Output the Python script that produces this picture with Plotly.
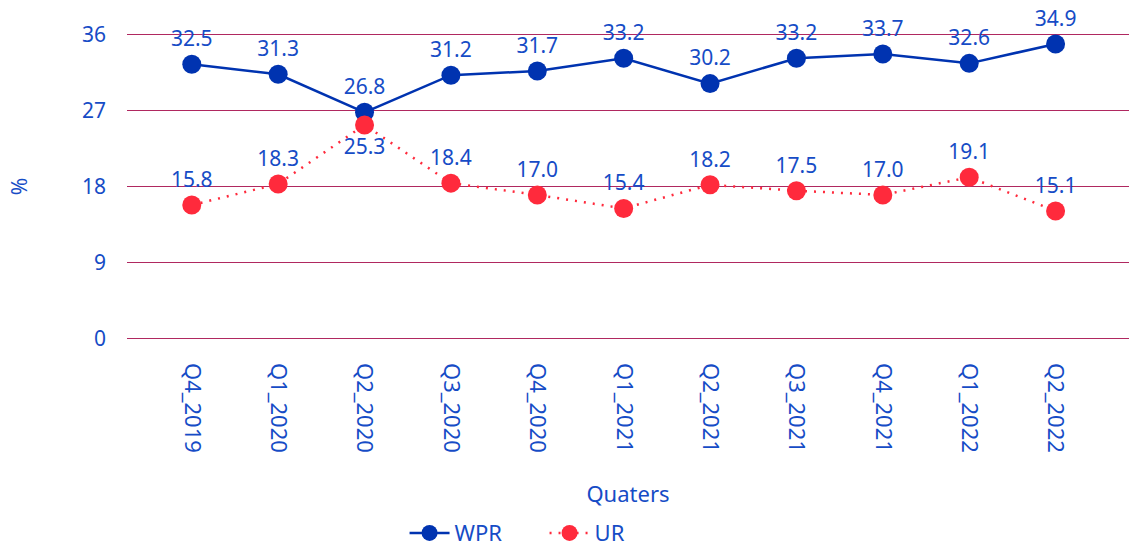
import plotly.graph_objects as go

quarters = ["Q4_2019", "Q1_2020", "Q2_2020", "Q3_2020", "Q4_2020", "Q1_2021",
            "Q2_2021", "Q3_2021", "Q4_2021", "Q1_2022", "Q2_2022"]
wpr = [32.5, 31.3, 26.8, 31.2, 31.7, 33.2, 30.2, 33.2, 33.7, 32.6, 34.9]
ur = [15.8, 18.3, 25.3, 18.4, 17.0, 15.4, 18.2, 17.5, 17.0, 19.1, 15.1]
y_ticks = [0, 9, 18, 27, 36]

blue = "#0033b0"
red = "#ff2a3c"
text_blue = "#164cc6"
grid_color = "#b02860"
font_family = "Noto Sans"

ur_positions = ["bottom center" if q == "Q2_2020" else "top center" for q in quarters]

fig = go.Figure()
fig.add_trace(go.Scatter(
    x=quarters, y=wpr, name="WPR", mode="lines+markers+text",
    line=dict(color=blue, width=2.5),
    marker=dict(color=blue, size=19),
    text=[f"{v:.1f}" for v in wpr], textposition="top center",
    textfont=dict(color=text_blue, size=21, family=font_family),
    cliponaxis=False,
))
fig.add_trace(go.Scatter(
    x=quarters, y=ur, name="UR", mode="lines+markers+text",
    line=dict(color=red, width=2.5, dash="2px,7px"),
    marker=dict(color=red, size=19),
    text=[f"{v:.1f}" for v in ur], textposition=ur_positions,
    textfont=dict(color=text_blue, size=21, family=font_family),
    cliponaxis=False,
))

fig.update_layout(
    width=1129, height=548,
    margin=dict(l=127, r=0, t=33, b=208, autoexpand=False),
    plot_bgcolor="white", paper_bgcolor="white",
    font=dict(family=font_family, color=text_blue, size=21),
    showlegend=True,
    legend=dict(orientation="h", x=0.277, xanchor="left", y=-0.629, yanchor="middle",
                font=dict(size=22, color=text_blue), itemwidth=40,
                entrywidth=85, entrywidthmode="pixels"),
    xaxis=dict(
        title=dict(text="Quaters", font=dict(size=22, color=text_blue), standoff=34),
        tickangle=90, showgrid=False, zeroline=False, showline=False,
        range=[-0.75, 10.85], tickfont=dict(size=22, color=text_blue),
        ticks="", automargin=False, ticklabelstandoff=22,
    ),
    yaxis=dict(
        title=dict(text="%", font=dict(size=21, color=text_blue), standoff=48),
        range=[-0.2, 36.2], tickvals=y_ticks, showgrid=True, gridcolor=grid_color,
        gridwidth=1, zeroline=False, showline=False, automargin=False,
        tickfont=dict(size=21, color=text_blue), ticks="", ticklabelstandoff=20,
    ),
)

fig.write_html("out.html")
